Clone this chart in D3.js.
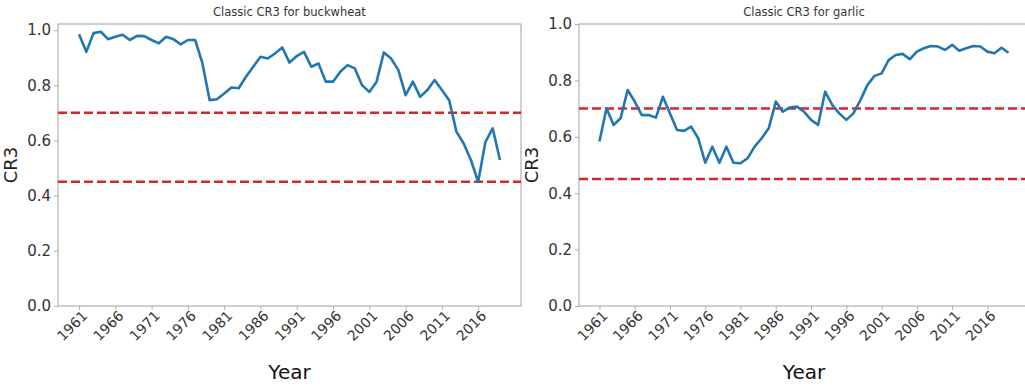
<!DOCTYPE html>
<html>
<head>
<meta charset="utf-8">
<script src="https://cdn.jsdelivr.net/npm/d3@7"></script>
<style>
  body { margin: 0; background: #fff; }
  svg text { font-family: "DejaVu Sans", sans-serif; }
</style>
</head>
<body>
<div id="chart"></div>
<script>
// data
var years = d3.range(1961, 2020);
var buckwheat = [0.985, 0.921, 0.989, 0.994, 0.967, 0.976, 0.983, 0.964, 0.979, 0.978,
  0.964, 0.952, 0.976, 0.967, 0.948, 0.964, 0.964, 0.88, 0.746, 0.749,
  0.77, 0.792, 0.789, 0.831, 0.867, 0.903, 0.897, 0.915, 0.937, 0.882,
  0.906, 0.921, 0.867, 0.879, 0.813, 0.813, 0.849, 0.873, 0.861, 0.80,
  0.776, 0.813, 0.919, 0.897, 0.855, 0.764, 0.813, 0.758, 0.783, 0.819,
  0.783, 0.746, 0.632, 0.589, 0.529, 0.450, 0.595, 0.644, 0.529];
var garlic = [0.583, 0.701, 0.642, 0.666, 0.766, 0.725, 0.677, 0.677, 0.668, 0.742,
  0.683, 0.624, 0.621, 0.636, 0.595, 0.508, 0.565, 0.508, 0.565, 0.508,
  0.506, 0.524, 0.565, 0.595, 0.630, 0.725, 0.689, 0.704, 0.707, 0.689,
  0.660, 0.642, 0.760, 0.713, 0.683, 0.660, 0.683, 0.730, 0.784, 0.816,
  0.825, 0.872, 0.890, 0.894, 0.875, 0.902, 0.914, 0.922, 0.920, 0.908,
  0.926, 0.905, 0.914, 0.922, 0.920, 0.902, 0.896, 0.916, 0.898];
var thresholds = [0.7, 0.45];
var yTicks = [0, 0.2, 0.4, 0.6, 0.8, 1.0];
var xTicks = d3.range(1961, 2020, 5);

var W = 1025, H = 387;
var svg = d3.select("#chart").append("svg").attr("width", W).attr("height", H);

function panel(left, right, top, bottom, yMax, values, title) {
  var pad = (2019 - 1961) * 0.05;
  var x = d3.scaleLinear().domain([1961 - pad, 2019 + pad]).range([left, right]);
  var y = d3.scaleLinear().domain([0, yMax]).range([bottom, top]);
  var g = svg.append("g");

  g.append("rect").attr("x", left).attr("y", top)
    .attr("width", right - left).attr("height", bottom - top)
    .attr("fill", "none").attr("stroke", "#b0b0b0").attr("stroke-width", 1.2);

  var ya = g.append("g").attr("transform", "translate(" + left + ",0)")
    .call(d3.axisLeft(y).tickValues(yTicks).tickFormat(d3.format(".1f")).tickSize(4).tickPadding(3));
  ya.select(".domain").remove();
  ya.selectAll("line").attr("stroke", "#b0b0b0");
  ya.selectAll("text").attr("font-size", 15).attr("fill", "#333");

  var xa = g.append("g").attr("transform", "translate(0," + bottom + ")")
    .call(d3.axisBottom(x).tickValues(xTicks).tickFormat(d3.format("d")).tickSize(4).tickPadding(2));
  xa.select(".domain").remove();
  xa.selectAll("line").attr("stroke", "#b0b0b0");
  xa.selectAll("text").attr("font-size", 14).attr("fill", "#333")
    .attr("text-anchor", "end").attr("dx", "-0.1em").attr("dy", "0.55em")
    .attr("transform", "rotate(-45)");

  g.selectAll(".thr").data(thresholds).enter().append("line")
    .attr("x1", left).attr("x2", right)
    .attr("y1", function(d) { return y(d); }).attr("y2", function(d) { return y(d); })
    .attr("stroke", "#d62728").attr("stroke-width", 2.5).attr("stroke-dasharray", "9,4");

  var line = d3.line().x(function(d, i) { return x(years[i]); }).y(function(d) { return y(d); });
  g.append("path").datum(values).attr("d", line)
    .attr("fill", "none").attr("stroke", "#2277b0").attr("stroke-width", 2.6)
    .attr("stroke-linejoin", "round");

  g.append("text").attr("x", (left + right) / 2).attr("y", 16)
    .attr("text-anchor", "middle").attr("font-size", 11.5).attr("fill", "#333").text(title);
  g.append("text").attr("x", (left + right) / 2).attr("y", 379)
    .attr("text-anchor", "middle").attr("font-size", 20).attr("fill", "#111").text("Year");
  g.append("text").attr("transform", "translate(" + (left - 41) + "," + ((top + bottom) / 2) + ") rotate(-90)")
    .attr("text-anchor", "middle").attr("font-size", 18).attr("fill", "#222").text("CR3");
}

panel(58, 521, 24, 306, 1.022, buckwheat, "Classic CR3 for buckwheat");
panel(579, 1029, 24, 306, 1.0, garlic, "Classic CR3 for garlic");
</script>
</body>
</html>
